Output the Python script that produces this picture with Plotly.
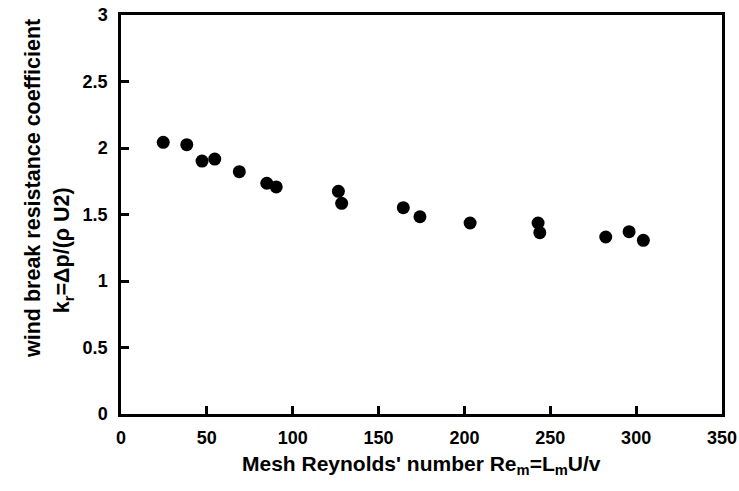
import plotly.graph_objects as go

re_m = [24.6, 38.3, 47.2, 54.6, 68.9, 84.9, 90.4, 126.6, 128.5, 164.4,
        174.1, 203.3, 242.9, 243.9, 282.3, 295.9, 304.2]
k_r = [2.043, 2.025, 1.902, 1.917, 1.822, 1.735, 1.707, 1.674, 1.584, 1.551,
       1.483, 1.436, 1.436, 1.363, 1.331, 1.371, 1.306]

x_ticks = [0, 50, 100, 150, 200, 250, 300, 350]
y_ticks = [0, 0.5, 1, 1.5, 2, 2.5, 3]
y_tick_text = ["0", "0.5", "1", "1.5", "2", "2.5", "3"]

FONT = "Liberation Sans, Arial, sans-serif"

fig = go.Figure()
fig.add_trace(go.Scatter(
    x=re_m, y=k_r, mode="markers",
    marker=dict(color="black", size=13, line=dict(width=0)),
    showlegend=False,
))

axis_common = dict(
    showline=True, linecolor="black", linewidth=2.5, mirror=True,
    ticks="inside", ticklen=8, tickwidth=2.5, tickcolor="black",
    showgrid=False, zeroline=False, automargin=False,
    tickfont=dict(family=FONT, size=18, color="black", weight="bold"),
)

fig.update_xaxes(range=[0, 350], tickvals=x_ticks, ticklabelstandoff=6, **axis_common)
fig.update_yaxes(range=[0, 3], tickvals=y_ticks, ticktext=y_tick_text, ticklabelstandoff=7, **axis_common)

fig.add_annotation(
    text="Mesh Reynolds' number Re<sub>m</sub>=L<sub>m</sub>U/v",
    xref="paper", yref="paper", x=0.5, y=-0.128, yanchor="middle",
    showarrow=False, font=dict(family=FONT, size=21, color="black", weight="bold"),
)
fig.add_annotation(
    text="wind break resistance coefficient",
    xref="paper", yref="paper", x=-0.1464, xanchor="center", y=0.564, yanchor="middle",
    textangle=-90, showarrow=False,
    font=dict(family=FONT, size=21.5, color="black", weight="bold"),
)
fig.add_annotation(
    text="k<sub>r</sub>=Δp/(ρ U2)",
    xref="paper", yref="paper", x=-0.095, xanchor="center", y=0.41, yanchor="middle",
    textangle=-90, showarrow=False,
    font=dict(family=FONT, size=21.5, color="black", weight="bold"),
)

fig.update_layout(
    width=739, height=491,
    margin=dict(l=121, r=17, t=15, b=77),
    paper_bgcolor="white", plot_bgcolor="white",
)

fig.write_html("out.html")
